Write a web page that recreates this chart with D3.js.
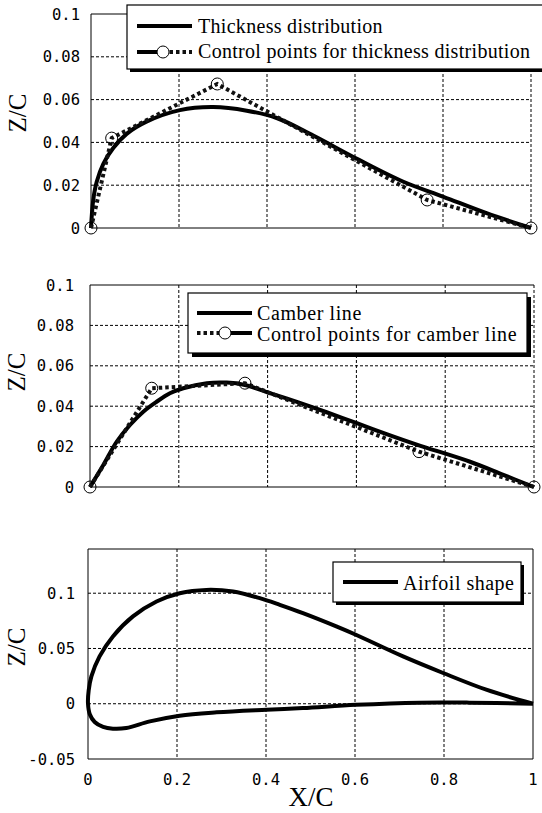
<!DOCTYPE html>
<html><head><meta charset="utf-8">
<script src="https://cdn.jsdelivr.net/npm/d3@7"></script>
<style>body{margin:0;background:#fff}svg{display:block}</style>
</head><body>
<svg id="c" width="542" height="813"></svg>
<script>
// ---- data ----
const thickX = [0, 0.005, 0.013, 0.028, 0.051, 0.081, 0.126, 0.202, 0.278, 0.354, 0.422, 0.505, 0.602, 0.710, 0.801, 0.899, 1];
const thickZ = [0, 0.013, 0.0216, 0.030, 0.0375, 0.0440, 0.0497, 0.0551, 0.0565, 0.0548, 0.0514, 0.0432, 0.0326, 0.0216, 0.0146, 0.0069, 0];
const thickCtrlX = [0, 0.047, 0.287, 0.764, 1];
const thickCtrlZ = [0, 0.042, 0.0673, 0.0131, 0];

const camX = [0, 0.030, 0.060, 0.090, 0.120, 0.150, 0.180, 0.210, 0.263, 0.308, 0.349, 0.398, 0.466, 0.533, 0.601, 0.668, 0.736, 0.856, 0.931, 1];
const camZ = [0, 0.0109, 0.0224, 0.0307, 0.0373, 0.0422, 0.0464, 0.0489, 0.0514, 0.0517, 0.0505, 0.0470, 0.0421, 0.0370, 0.0316, 0.0262, 0.0210, 0.0125, 0.0060, 0];
const camCtrlX = [0, 0.139, 0.349, 0.741, 1];
const camCtrlZ = [0, 0.0489, 0.0514, 0.0175, 0];

const upperX = [0, 0.0015, 0.0076, 0.026, 0.056, 0.101, 0.154, 0.206, 0.266, 0.326, 0.386, 0.431, 0.483, 0.558, 0.602, 0.708, 0.798, 0.895, 1];
const upperZ = [0, 0.012, 0.0247, 0.0428, 0.0609, 0.079, 0.0925, 0.100, 0.103, 0.1015, 0.0955, 0.0895, 0.082, 0.070, 0.0624, 0.0428, 0.0278, 0.0127, 0];
const lowerX = [0, 0.004, 0.015, 0.034, 0.056, 0.086, 0.139, 0.206, 0.289, 0.401, 0.483, 0.602, 0.745, 0.857, 1];
const lowerZ = [0, -0.0095, -0.0165, -0.0210, -0.0226, -0.022, -0.016, -0.0108, -0.0078, -0.0054, -0.0039, -0.001, 0.001, 0.001, 0];

const xTicks = [0, 0.2, 0.4, 0.6, 0.8, 1];
const xTickLabels = ["0", "0.2", "0.4", "0.6", "0.8", "1"];
const yTicksTop = [0, 0.02, 0.04, 0.06, 0.08, 0.1];
const yTickLabelsTop = ["0", "0.02", "0.04", "0.06", "0.08", "0.1"];
const yTicksAirfoil = [-0.05, 0, 0.05, 0.1];
const yTickLabelsAirfoil = ["-0.05", "0", "0.05", "0.1"];

const legendThick = ["Thickness distribution", "Control points for thickness distribution"];
const legendCamber = ["Camber line", "Control points for camber line"];
const legendAirfoil = ["Airfoil shape"];

// ---- drawing ----
const svg = d3.select("#c");
const serif = "'Liberation Serif','Times New Roman',serif";
const mono = "'DejaVu Sans Mono','Liberation Mono',monospace";

function zip(a, b) { return a.map((v, i) => [v, b[i]]); }

function panel(o) {
  const x = d3.scaleLinear().domain([0, 1]).range([o.l, o.r]);
  const y = d3.scaleLinear().domain(o.yd).range([o.b, o.t]);
  const g = svg.append("g");
  g.selectAll(".gx").data(xTicks.filter(v => v > 0 && (v < 1 || o.dashRight))).enter().append("line")
    .attr("x1", d => x(d)).attr("x2", d => x(d)).attr("y1", o.t).attr("y2", o.b)
    .attr("stroke", "#000").attr("stroke-width", 1).attr("stroke-dasharray", "3,2");
  g.selectAll(".gy").data(o.yt.filter(v => v > o.yd[0] && v < o.yd[1] - 1e-9)).enter().append("line")
    .attr("x1", o.l).attr("x2", o.r).attr("y1", d => y(d)).attr("y2", d => y(d))
    .attr("stroke", "#000").attr("stroke-width", 1).attr("stroke-dasharray", "3,2");
  g.append("path").attr("d", `M${o.r},${o.t}H${o.l}V${o.b}H${o.r}` + (o.dashRight ? "" : `V${o.t}`))
    .attr("fill", "none").attr("stroke", "#000").attr("stroke-width", 1);
  g.selectAll(".yl").data(o.yt).enter().append("text")
    .attr("x", o.l - o.labOff).attr("y", d => y(d)).attr("dy", "0.36em")
    .attr("text-anchor", "end").attr("font-family", mono).attr("font-size", 15.5)
    .text((d, i) => o.ytl[i]);
  g.append("text").attr("transform", `translate(${o.zcx},${o.zcy}) rotate(-90)`)
    .attr("text-anchor", "middle").attr("dy", "0.35em")
    .attr("font-family", serif).attr("font-size", 25).text("Z/C");
  return { x, y, g };
}

function legend(o) {
  const g = svg.append("g");
  g.append("rect").attr("x", o.x + o.sh).attr("y", o.y + o.sh).attr("width", o.w).attr("height", o.h).attr("fill", "#000");
  g.append("rect").attr("x", o.x).attr("y", o.y).attr("width", o.w).attr("height", o.h)
    .attr("fill", "#fff").attr("stroke", "#000").attr("stroke-width", 1.2);
  return g;
}

// Panel 1: thickness
const p1 = panel({ l: 91, r: 531, t: 14, b: 228, yd: [0, 0.1], yt: yTicksTop, ytl: yTickLabelsTop, labOff: 11, zcx: 17, zcy: 113, dashRight: true });
p1.g.append("path").datum(zip(thickX, thickZ)).attr("d", d3.line().x(d => p1.x(d[0])).y(d => p1.y(d[1])).curve(d3.curveCatmullRom.alpha(0.5)))
  .attr("fill", "none").attr("stroke", "#000").attr("stroke-width", 4);
p1.g.append("path").datum(zip(thickCtrlX, thickCtrlZ)).attr("d", d3.line().x(d => p1.x(d[0])).y(d => p1.y(d[1])))
  .attr("fill", "none").attr("stroke", "#111").attr("stroke-width", 4).attr("stroke-dasharray", "3.5,3");
p1.g.selectAll(".c1").data(zip(thickCtrlX, thickCtrlZ)).enter().append("circle")
  .attr("cx", d => p1.x(d[0])).attr("cy", d => p1.y(d[1])).attr("r", 6)
  .attr("fill", "none").attr("stroke", "#000").attr("stroke-width", 1);

const lg1 = legend({ x: 127, y: 5, w: 430, h: 64, sh: 3 });
lg1.append("line").attr("x1", 137).attr("x2", 192).attr("y1", 26).attr("y2", 26).attr("stroke", "#000").attr("stroke-width", 4);
lg1.append("line").attr("x1", 137).attr("x2", 163).attr("y1", 52).attr("y2", 52).attr("stroke", "#000").attr("stroke-width", 4);
lg1.append("line").attr("x1", 163).attr("x2", 192).attr("y1", 52).attr("y2", 52).attr("stroke", "#111").attr("stroke-width", 4).attr("stroke-dasharray", "3.5,3");
lg1.append("circle").attr("cx", 163).attr("cy", 52).attr("r", 6).attr("fill", "#fff").attr("stroke", "#000");
lg1.selectAll(".t").data(legendThick).enter().append("text")
  .attr("x", 198).attr("y", (d, i) => 33 + i * 25).attr("font-family", serif).attr("font-size", 20)
  .attr("letter-spacing", 0.3).text(d => d);

// Panel 2: camber
const p2 = panel({ l: 90, r: 534, t: 285, b: 487, yd: [0, 0.1], yt: yTicksTop, ytl: yTickLabelsTop, labOff: 16, zcx: 16, zcy: 372, dashRight: true });
p2.g.append("path").datum(zip(camX, camZ)).attr("d", d3.line().x(d => p2.x(d[0])).y(d => p2.y(d[1])).curve(d3.curveCatmullRom.alpha(0.5)))
  .attr("fill", "none").attr("stroke", "#000").attr("stroke-width", 4);
p2.g.append("path").datum(zip(camCtrlX, camCtrlZ)).attr("d", d3.line().x(d => p2.x(d[0])).y(d => p2.y(d[1])))
  .attr("fill", "none").attr("stroke", "#111").attr("stroke-width", 4).attr("stroke-dasharray", "3.5,3");
p2.g.selectAll(".c2").data(zip(camCtrlX, camCtrlZ)).enter().append("circle")
  .attr("cx", d => p2.x(d[0])).attr("cy", d => p2.y(d[1])).attr("r", 6)
  .attr("fill", "none").attr("stroke", "#000").attr("stroke-width", 1);

const lg2 = legend({ x: 188, y: 293, w: 339, h: 60, sh: 4 });
lg2.append("line").attr("x1", 197).attr("x2", 252).attr("y1", 313).attr("y2", 313).attr("stroke", "#000").attr("stroke-width", 4);
lg2.append("line").attr("x1", 197).attr("x2", 225).attr("y1", 333).attr("y2", 333).attr("stroke", "#111").attr("stroke-width", 4).attr("stroke-dasharray", "3.5,3");
lg2.append("line").attr("x1", 225).attr("x2", 252).attr("y1", 333).attr("y2", 333).attr("stroke", "#000").attr("stroke-width", 4);
lg2.append("circle").attr("cx", 225).attr("cy", 333).attr("r", 6).attr("fill", "#fff").attr("stroke", "#000");
lg2.selectAll(".t").data(legendCamber).enter().append("text")
  .attr("x", 257).attr("y", (d, i) => 320 + i * 21).attr("font-family", serif).attr("font-size", 20)
  .attr("letter-spacing", 0.6).text(d => d);

// Panel 3: airfoil
const p3 = panel({ l: 88, r: 533, t: 549, b: 759, yd: [-0.05, 0.14], yt: yTicksAirfoil, ytl: yTickLabelsAirfoil, labOff: 13, zcx: 16, zcy: 647, dashRight: false });
const foil = zip(upperX, upperZ).reverse().concat(zip(lowerX, lowerZ).slice(1));
p3.g.append("path").datum(foil).attr("d", d3.line().x(d => p3.x(d[0])).y(d => p3.y(d[1])).curve(d3.curveCatmullRom.alpha(0.5)))
  .attr("fill", "none").attr("stroke", "#000").attr("stroke-width", 4).attr("stroke-linejoin", "round");
p3.g.selectAll(".xl").data(xTicks).enter().append("text")
  .attr("x", d => p3.x(d)).attr("y", 785).attr("text-anchor", "middle")
  .attr("font-family", mono).attr("font-size", 15.5).text((d, i) => xTickLabels[i]);
svg.append("text").attr("x", 311).attr("y", 806).attr("text-anchor", "middle")
  .attr("font-family", serif).attr("font-size", 27).text("X/C");

const lg3 = legend({ x: 333, y: 562, w: 188, h: 40, sh: 3 });
lg3.append("line").attr("x1", 343).attr("x2", 398).attr("y1", 582).attr("y2", 582).attr("stroke", "#000").attr("stroke-width", 4);
lg3.selectAll(".t").data(legendAirfoil).enter().append("text")
  .attr("x", 403).attr("y", 590).attr("font-family", serif).attr("font-size", 20)
  .attr("letter-spacing", 0.5).text(d => d);
</script>
</body></html>
